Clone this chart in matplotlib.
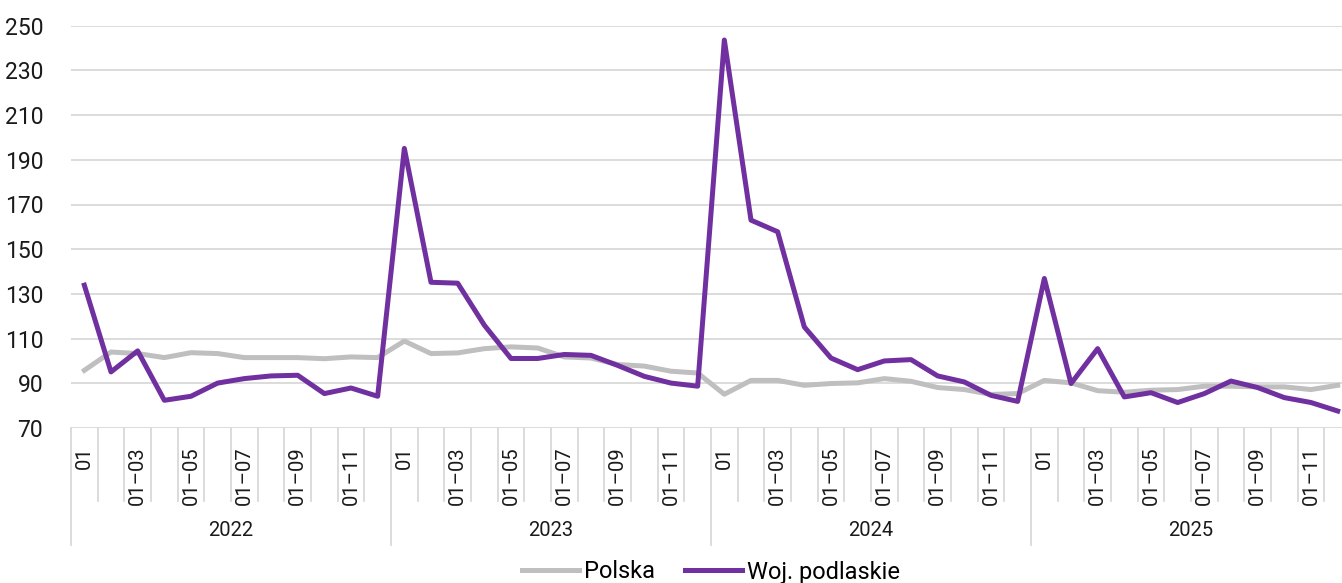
import matplotlib.pyplot as plt
from matplotlib.transforms import blended_transform_factory

YEARS = ['2022', '2023', '2024', '2025']
MONTH_LABELS = ['01', '', '01–03', '', '01–05', '', '01–07', '', '01–09', '', '01–11', '']

POLSKA = [95.8, 104.0, 103.3, 101.5, 103.7, 103.3, 101.5, 101.5, 101.5, 101.0, 101.8, 101.5,
          108.9, 103.3, 103.6, 105.5, 106.3, 105.8, 101.8, 101.3, 98.4, 97.7, 95.4, 94.6,
          85.1, 91.3, 91.3, 89.1, 89.9, 90.2, 92.1, 90.9, 88.1, 87.2, 85.0, 85.4,
          91.3, 90.2, 86.7, 86.0, 86.9, 87.2, 88.7, 88.7, 88.4, 88.4, 87.2, 89.1]
PODLASKIE = [133.9, 95.1, 104.5, 82.4, 84.2, 90.1, 92.1, 93.3, 93.6, 85.4, 87.9, 84.2,
             195.1, 135.2, 134.8, 116.0, 101.1, 101.1, 102.9, 102.5, 98.0, 93.1, 90.1, 88.7,
             243.6, 163.0, 157.8, 115.2, 101.3, 96.1, 100.0, 100.6, 93.3, 90.6, 84.6, 81.9,
             136.9, 89.9, 105.5, 83.9, 85.8, 81.4, 85.4, 91.0, 88.1, 83.6, 81.4, 77.6]
SERIES_NAMES = ['Polska', 'Woj. podlaskie']

GRID = '#d9d9d9'
W, H = 1342, 583

plt.rcParams['font.family'] = ['Roboto', 'DejaVu Sans']

fig = plt.figure(figsize=(W / 100, H / 100), dpi=100)
# axes runs a bit past the right edge, like the cropped original
left, right, top, bottom = 71, 1351, 25.7, 428
ax = fig.add_axes([left / W, (H - bottom) / H, (right - left) / W, (bottom - top) / H])

x = list(range(len(POLSKA)))
ax.plot(x, POLSKA, color='#bfbfbf', lw=3.6, solid_joinstyle='round', label=SERIES_NAMES[0])
ax.plot(x, PODLASKIE, color='#7030a0', lw=3.6, solid_joinstyle='round', label=SERIES_NAMES[1])

ax.set_xlim(-0.5, len(x) - 0.5)
ax.set_ylim(70, 250)
ax.set_yticks(range(70, 251, 20))
ax.tick_params(axis='y', length=0, pad=20, labelsize=16.5, labelcolor='#1a1a1a')
ax.grid(axis='y', color=GRID, lw=1.3)
ax.set_axisbelow(True)
for side in ['left', 'right', 'top', 'bottom']:
    ax.spines[side].set_visible(False)

# month labels at category centres, separators between categories
ax.set_xticks(x)
ax.set_xticklabels(MONTH_LABELS * len(YEARS), rotation=90, fontsize=14.5, color='#1a1a1a')
ax.tick_params(axis='x', length=0, pad=13)

axis_h = bottom - top
trans = blended_transform_factory(ax.transData, ax.transAxes)
for i in range(len(x) + 1):
    long_line = i % 12 == 0
    y_end = -(545 - bottom) / axis_h if long_line else -(501 - bottom) / axis_h
    ax.plot([i - 0.5, i - 0.5], [0, y_end], color=GRID, lw=1.3, transform=trans, clip_on=False)

for k, year in enumerate(YEARS):
    ax.text(k * 12 + 5.5, -(530 - bottom) / axis_h, year, transform=trans,
            ha='center', va='center', fontsize=14.5, color='#1a1a1a')

fig.legend(loc='center', bbox_to_anchor=((left + right) / 2 / W, 11 / H), ncol=2,
           frameon=False, fontsize=17, handlelength=2.4, handletextpad=0.2,
           columnspacing=1.3)

fig.savefig('out.png', dpi=100)
